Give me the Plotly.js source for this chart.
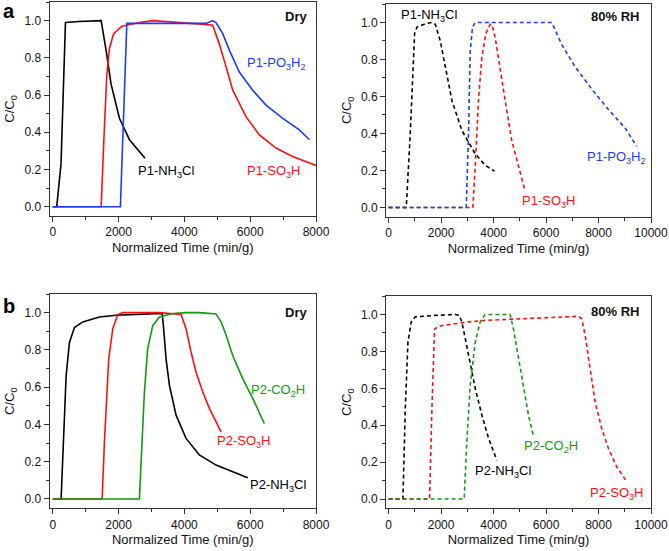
<!DOCTYPE html>
<html><head><meta charset="utf-8">
<script src="https://cdn.plot.ly/plotly-3.0.1.min.js"></script>
<style>html,body{margin:0;padding:0;background:#fff}#c{width:669px;height:551px}</style>
</head><body><div id="c"></div>
<script>
// Panel a, Dry
const aDry_NH3Cl_x = [0, 120, 250, 385, 800, 1470, 1620, 1770, 2025, 2330, 2805];
const aDry_NH3Cl_y = [0, 0, 0.23, 0.99, 0.995, 1.0, 0.84, 0.66, 0.475, 0.36, 0.26];
const aDry_SO3H_x = [0, 1470, 1550, 1640, 1720, 1850, 2100, 2630, 3040, 3950, 4600, 4860, 5060, 5270, 5470, 5870, 6280, 6785, 7290, 8000];
const aDry_SO3H_y = [0, 0, 0.35, 0.7, 0.85, 0.93, 0.97, 0.99, 1.0, 0.99, 0.98, 0.975, 0.875, 0.75, 0.626, 0.484, 0.386, 0.315, 0.27, 0.222];
const aDry_PO3H2_x = [0, 2055, 2250, 3000, 4000, 4660, 4860, 4960, 5165, 5370, 5670, 6075, 6480, 6990, 7495, 7800];
const aDry_PO3H2_y = [0, 0, 0.985, 0.985, 0.985, 0.985, 1.0, 0.99, 0.93, 0.84, 0.724, 0.626, 0.546, 0.475, 0.413, 0.36];
// Panel a, 80% RH
const aRH_NH3Cl_x = [0, 673, 825, 990, 1080, 1400, 1650, 1780, 1970, 2160, 2410, 2790, 3300, 3680, 4035];
const aRH_NH3Cl_y = [0, 0, 0.4, 0.94, 0.975, 0.993, 1.0, 0.99, 0.9, 0.76, 0.58, 0.417, 0.29, 0.228, 0.196];
const aRH_PO3H2_x = [0, 2957, 3045, 3110, 3200, 3300, 6220, 6600, 7110, 7740, 8375, 9010, 9455];
const aRH_PO3H2_y = [0, 0, 0.4, 0.85, 0.975, 1.0, 1.0, 0.88, 0.76, 0.64, 0.53, 0.43, 0.33];
const aRH_SO3H_x = [0, 3210, 3300, 3425, 3550, 3705, 3870, 3935, 4060, 4250, 4440, 4695, 4950, 5200];
const aRH_SO3H_y = [0, 0, 0.22, 0.58, 0.81, 0.94, 0.99, 0.99, 0.92, 0.76, 0.58, 0.36, 0.22, 0.09];
// Panel b, Dry
const bDry_NH3Cl_x = [0, 253, 324, 405, 506, 658, 911, 1418, 1924, 2430, 2937, 3322, 3362, 3443, 3545, 3747, 4050, 4456, 4962, 5469, 5925];
const bDry_NH3Cl_y = [0, 0, 0.31, 0.66, 0.84, 0.92, 0.95, 0.977, 0.986, 0.99, 0.995, 0.996, 0.93, 0.75, 0.61, 0.45, 0.325, 0.236, 0.182, 0.146, 0.114];
const bDry_SO3H_x = [0, 1500, 1570, 1620, 1700, 1823, 1975, 2127, 3240, 3900, 4050, 4200, 4355, 4557, 4760, 5114];
const bDry_SO3H_y = [0, 0, 0.31, 0.486, 0.75, 0.914, 0.99, 1.0, 1.0, 0.99, 0.914, 0.79, 0.68, 0.575, 0.486, 0.36];
const bDry_CO2H_x = [0, 2633, 2714, 2785, 2886, 3038, 3240, 3646, 4050, 4456, 4962, 5114, 5266, 5469, 5772, 6076, 6430];
const bDry_CO2H_y = [0, 0, 0.31, 0.575, 0.81, 0.93, 0.977, 0.995, 1.0, 1.0, 0.993, 0.95, 0.88, 0.77, 0.646, 0.54, 0.405];
// Panel b, 80% RH
const bRH_NH3Cl_x = [0, 546, 635, 736, 863, 1015, 1777, 2540, 2690, 2790, 2920, 3110, 3300, 3553, 3807, 4124];
const bRH_NH3Cl_y = [0, 0, 0.49, 0.85, 0.96, 0.987, 0.995, 1.0, 0.995, 0.96, 0.87, 0.725, 0.6, 0.455, 0.33, 0.21];
const bRH_CO2H_x = [0, 2880, 2980, 3110, 3300, 3490, 3680, 4630, 4760, 4950, 5140, 5330, 5520];
const bRH_CO2H_y = [0, 0, 0.31, 0.617, 0.85, 0.96, 1.0, 1.0, 0.92, 0.76, 0.6, 0.455, 0.34];
const bRH_SO3H_x = [0, 1560, 1650, 1750, 1905, 3045, 3680, 4950, 6220, 7233, 7360, 7490, 7680, 7870, 8120, 8375, 8690, 9070];
const bRH_SO3H_y = [0, 0, 0.49, 0.92, 0.937, 0.96, 0.968, 0.977, 0.986, 0.99, 0.977, 0.887, 0.707, 0.527, 0.383, 0.275, 0.176, 0.095];

const BLACK = '#000000', RED = '#ff1010', BLUE = '#1a3cff', GREEN = '#109a10';
const W = 669, H = 551;

function tr(x, y, color, ax, dashed) {
  return {x: x, y: y, type: 'scatter', mode: 'lines', xaxis: 'x' + ax, yaxis: 'y' + ax,
    line: {color: color, width: 1.6, dash: dashed ? '4px,3px' : 'solid'}, showlegend: false, hoverinfo: 'skip'};
}
const data = [
  tr(aDry_NH3Cl_x, aDry_NH3Cl_y, BLACK, '', false),
  tr(aDry_SO3H_x, aDry_SO3H_y, RED, '', false),
  tr(aDry_PO3H2_x, aDry_PO3H2_y, BLUE, '', false),
  tr(aRH_NH3Cl_x, aRH_NH3Cl_y, BLACK, '2', true),
  tr(aRH_SO3H_x, aRH_SO3H_y, RED, '2', true),
  tr(aRH_PO3H2_x, aRH_PO3H2_y, BLUE, '2', true),
  tr(bDry_NH3Cl_x, bDry_NH3Cl_y, BLACK, '3', false),
  tr(bDry_SO3H_x, bDry_SO3H_y, RED, '3', false),
  tr(bDry_CO2H_x, bDry_CO2H_y, GREEN, '3', false),
  tr(bRH_NH3Cl_x, bRH_NH3Cl_y, BLACK, '4', true),
  tr(bRH_SO3H_x, bRH_SO3H_y, RED, '4', true),
  tr(bRH_CO2H_x, bRH_CO2H_y, GREEN, '4', true)
];

const FONT = 'Liberation Sans, Arial, sans-serif';
function xax(px0, px1, max, anchor) {
  return {domain: [px0 / W, px1 / W], range: [-100, max], anchor: anchor,
    showline: true, mirror: true, linecolor: '#333', linewidth: 1, showgrid: false, zeroline: false,
    ticks: 'outside', ticklen: 5, tickcolor: '#333', dtick: 2000, tick0: 0, tickformat: 'd',
    minor: {ticks: 'outside', ticklen: 3, dtick: 1000, tickcolor: '#333'},
    tickfont: {family: FONT, size: 12, color: '#111'},
    title: {text: 'Normalized Time (min/g)', font: {family: FONT, size: 13, color: '#111'}, standoff: 4},
    automargin: false, fixedrange: true};
}
function yax(py0, py1, anchor) {
  return {domain: [1 - py1 / H, 1 - py0 / H], range: [-0.05, 1.1], anchor: anchor,
    showline: true, mirror: true, linecolor: '#333', linewidth: 1, showgrid: false, zeroline: false,
    ticks: 'outside', ticklen: 5, tickcolor: '#333', dtick: 0.2, tick0: 0, tickformat: '.1f',
    minor: {ticks: 'outside', ticklen: 3, dtick: 0.1, tickcolor: '#333'},
    tickfont: {family: FONT, size: 12, color: '#111'},
    title: {text: 'C/C<sub>0</sub>', font: {family: FONT, size: 13, color: '#111'}, standoff: 6},
    automargin: false, fixedrange: true};
}

function lab(text, x, y, color, ax, bold) {
  return {text: bold ? '<b>' + text + '</b>' : text, x: x, y: y, xref: 'x' + ax, yref: 'y' + ax,
    showarrow: false, xanchor: 'center', yanchor: 'middle',
    font: {family: FONT, size: 13, color: color}};
}
const annotations = [
  {text: '<b>a</b>', x: 9 / W, y: 1 - 11 / H, xref: 'paper', yref: 'paper', showarrow: false, xanchor: 'center', yanchor: 'middle', font: {family: FONT, size: 20, color: '#000'}},
  {text: '<b>b</b>', x: 9 / W, y: 1 - 306 / H, xref: 'paper', yref: 'paper', showarrow: false, xanchor: 'center', yanchor: 'middle', font: {family: FONT, size: 20, color: '#000'}},
  lab('Dry', 7390, 1.02, '#111', '', true),
  lab('P1-PO<sub>3</sub>H<sub>2</sub>', 6785, 0.77, BLUE, '', false),
  lab('P1-NH<sub>3</sub>Cl', 3440, 0.19, BLACK, '', false),
  lab('P1-SO<sub>3</sub>H', 6700, 0.19, RED, '', false),
  lab('80% RH', 8640, 1.03, '#111', '2', true),
  lab('P1-NH<sub>3</sub>Cl', 1550, 1.038, BLACK, '2', false),
  lab('P1-PO<sub>3</sub>H<sub>2</sub>', 8690, 0.27, BLUE, '2', false),
  lab('P1-SO<sub>3</sub>H', 6090, 0.03, RED, '2', false),
  lab('Dry', 7390, 1.0, '#111', '3', true),
  lab('P2-CO<sub>2</sub>H', 6836, 0.584, GREEN, '3', false),
  lab('P2-SO<sub>3</sub>H', 5782, 0.307, RED, '3', false),
  lab('P2-NH<sub>3</sub>Cl', 6850, 0.07, BLACK, '3', false),
  lab('80% RH', 8640, 1.016, '#111', '4', true),
  lab('P2-CO<sub>2</sub>H', 6170, 0.284, GREEN, '4', false),
  lab('P2-NH<sub>3</sub>Cl', 4365, 0.149, BLACK, '4', false),
  lab('P2-SO<sub>3</sub>H', 8690, 0.032, RED, '4', false)
];

const layout = {
  width: W, height: H, margin: {l: 0, r: 0, t: 0, b: 0},
  paper_bgcolor: '#fff', plot_bgcolor: '#fff', showlegend: false,
  xaxis: xax(49.5, 316, 8000, 'y'), yaxis: yax(2, 216, 'x'),
  xaxis2: xax(386, 651, 10000, 'y2'), yaxis2: yax(4, 216.7, 'x2'),
  xaxis3: xax(49.5, 316, 8000, 'y3'), yaxis3: yax(294, 508.3, 'x3'),
  xaxis4: xax(386, 651, 10000, 'y4'), yaxis4: yax(296, 508.3, 'x4'),
  annotations: annotations
};
Plotly.newPlot('c', data, layout, {staticPlot: true, displayModeBar: false});
</script></body></html>
